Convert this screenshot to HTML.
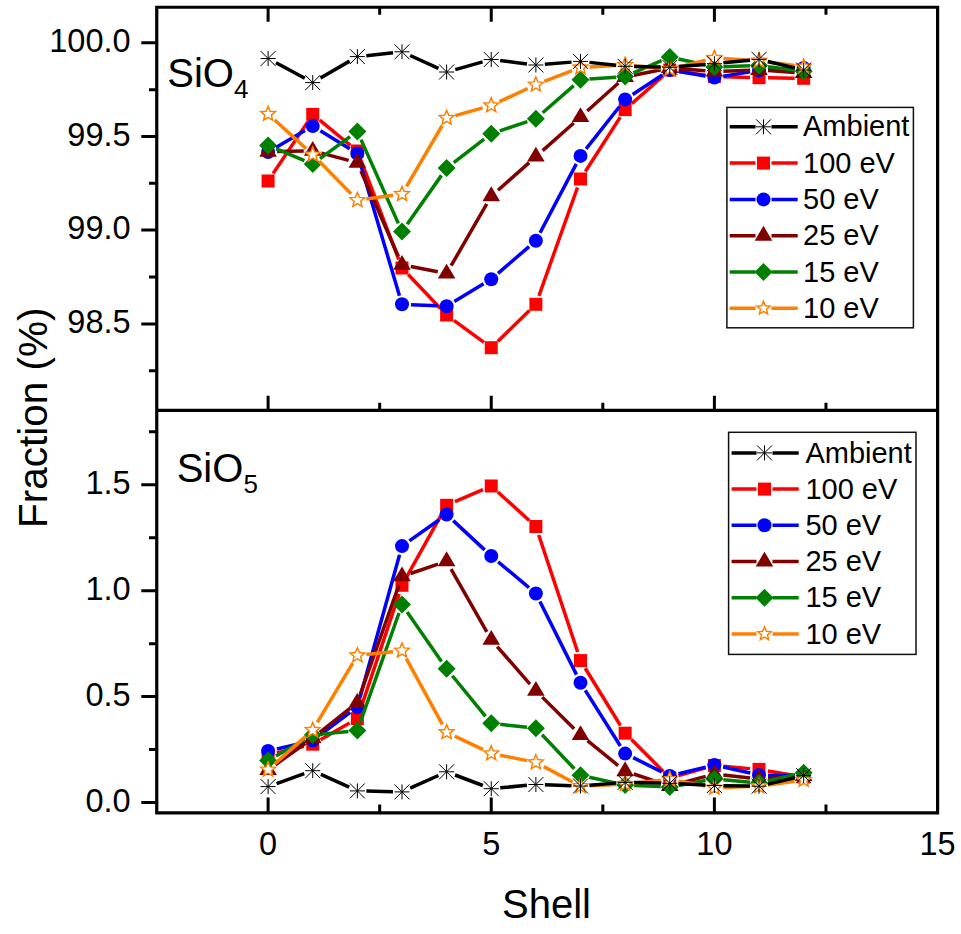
<!DOCTYPE html>
<html><head><meta charset="utf-8"><style>
html,body{margin:0;padding:0;background:#fff;}
svg{display:block;}
text{font-family:"Liberation Sans",sans-serif;fill:#000;}
</style></head><body>
<svg width="961" height="934" viewBox="0 0 961 934">
<rect width="961" height="934" fill="#fff"/>
<defs><clipPath id="ct"><rect x="158" y="9" width="778" height="400"/></clipPath><clipPath id="cb"><rect x="158" y="412" width="778" height="399"/></clipPath></defs>
<g clip-path="url(#ct)"><path d="M273.11,173.52L307.72,121.88M319.69,120.11L350.40,145.29M360.57,159.41L398.78,259.59M408.19,274.53L440.42,308.47M453.88,320.32L483.99,342.38M497.70,341.43L529.43,310.57M538.90,295.82L577.49,187.48M585.38,171.43L620.27,117.17M631.87,103.63L663.04,75.97M678.68,71.30L705.49,75.20M723.40,76.74L750.03,77.46M768.03,77.82L794.66,78.18" stroke="#ff0000" stroke-width="3.5" fill="none" stroke-linecap="butt"/>
<rect x="261.60" y="174.50" width="13.00" height="13.00" fill="#ff0000"/>
<rect x="306.23" y="107.90" width="13.00" height="13.00" fill="#ff0000"/>
<rect x="350.86" y="144.50" width="13.00" height="13.00" fill="#ff0000"/>
<rect x="395.49" y="261.50" width="13.00" height="13.00" fill="#ff0000"/>
<rect x="440.12" y="308.50" width="13.00" height="13.00" fill="#ff0000"/>
<rect x="484.75" y="341.20" width="13.00" height="13.00" fill="#ff0000"/>
<rect x="529.38" y="297.80" width="13.00" height="13.00" fill="#ff0000"/>
<rect x="574.01" y="172.50" width="13.00" height="13.00" fill="#ff0000"/>
<rect x="618.64" y="103.10" width="13.00" height="13.00" fill="#ff0000"/>
<rect x="663.27" y="63.50" width="13.00" height="13.00" fill="#ff0000"/>
<rect x="707.90" y="70.00" width="13.00" height="13.00" fill="#ff0000"/>
<rect x="752.53" y="71.20" width="13.00" height="13.00" fill="#ff0000"/>
<rect x="797.16" y="71.80" width="13.00" height="13.00" fill="#ff0000"/>
<path d="M275.88,147.47L304.95,130.53M320.39,130.72L349.70,148.78M359.91,162.13L399.44,295.67M410.98,304.68L437.63,305.82M454.32,301.54L483.55,283.86M498.06,273.32L529.07,246.58M540.07,232.74L576.32,163.86M586.09,148.84L619.56,106.46M632.66,94.45L662.25,74.95M678.65,71.49L705.52,76.01M723.29,76.11L750.14,71.89M768.02,70.00L794.67,68.50" stroke="#0000ff" stroke-width="3.5" fill="none" stroke-linecap="butt"/>
<circle cx="268.10" cy="152.00" r="7" fill="#0000ff"/>
<circle cx="312.73" cy="126.00" r="7" fill="#0000ff"/>
<circle cx="357.36" cy="153.50" r="7" fill="#0000ff"/>
<circle cx="401.99" cy="304.30" r="7" fill="#0000ff"/>
<circle cx="446.62" cy="306.20" r="7" fill="#0000ff"/>
<circle cx="491.25" cy="279.20" r="7" fill="#0000ff"/>
<circle cx="535.88" cy="240.70" r="7" fill="#0000ff"/>
<circle cx="580.51" cy="155.90" r="7" fill="#0000ff"/>
<circle cx="625.14" cy="99.40" r="7" fill="#0000ff"/>
<circle cx="669.77" cy="70.00" r="7" fill="#0000ff"/>
<circle cx="714.40" cy="77.50" r="7" fill="#0000ff"/>
<circle cx="759.03" cy="70.50" r="7" fill="#0000ff"/>
<circle cx="803.66" cy="68.00" r="7" fill="#0000ff"/>
<path d="M277.10,151.60L303.73,151.00M321.43,153.12L348.66,160.38M360.96,170.95L398.39,256.55M410.82,266.52L437.79,271.78M451.12,265.71L486.75,203.99M497.98,190.23L529.15,162.57M542.61,150.63L573.78,122.97M587.21,110.99L618.44,83.01M633.96,75.22L660.95,69.78M678.74,68.70L705.43,70.80M723.39,71.20L750.04,70.30M768.01,70.60L794.68,72.40" stroke="#800000" stroke-width="3.5" fill="none" stroke-linecap="butt"/>
<polygon points="268.10,141.93 276.90,156.73 259.30,156.73" fill="#800000"/>
<polygon points="312.73,140.93 321.53,155.73 303.93,155.73" fill="#800000"/>
<polygon points="357.36,152.83 366.16,167.63 348.56,167.63" fill="#800000"/>
<polygon points="401.99,254.93 410.79,269.73 393.19,269.73" fill="#800000"/>
<polygon points="446.62,263.63 455.42,278.43 437.82,278.43" fill="#800000"/>
<polygon points="491.25,186.33 500.05,201.13 482.45,201.13" fill="#800000"/>
<polygon points="535.88,146.73 544.68,161.53 527.08,161.53" fill="#800000"/>
<polygon points="580.51,107.13 589.31,121.93 571.71,121.93" fill="#800000"/>
<polygon points="625.14,67.13 633.94,81.93 616.34,81.93" fill="#800000"/>
<polygon points="669.77,58.13 678.57,72.93 660.97,72.93" fill="#800000"/>
<polygon points="714.40,61.63 723.20,76.43 705.60,76.43" fill="#800000"/>
<polygon points="759.03,60.13 767.83,74.93 750.23,74.93" fill="#800000"/>
<polygon points="803.66,63.13 812.46,77.93 794.86,77.93" fill="#800000"/>
<path d="M276.41,148.95L304.42,160.55M320.00,158.69L350.09,136.71M361.02,139.62L398.33,223.38M407.16,224.23L441.45,175.37M453.76,162.52L484.11,139.18M499.78,130.83L527.35,121.57M542.66,112.78L573.73,85.62M589.49,79.06L616.16,77.14M633.39,72.90L661.52,60.60M678.56,58.95L705.61,64.95M723.40,66.64L750.03,65.86M767.96,66.72L794.73,70.08" stroke="#008000" stroke-width="3.5" fill="none" stroke-linecap="butt"/>
<polygon points="268.10,136.50 277.10,145.50 268.10,154.50 259.10,145.50" fill="#008000"/>
<polygon points="312.73,155.00 321.73,164.00 312.73,173.00 303.73,164.00" fill="#008000"/>
<polygon points="357.36,122.40 366.36,131.40 357.36,140.40 348.36,131.40" fill="#008000"/>
<polygon points="401.99,222.60 410.99,231.60 401.99,240.60 392.99,231.60" fill="#008000"/>
<polygon points="446.62,159.00 455.62,168.00 446.62,177.00 437.62,168.00" fill="#008000"/>
<polygon points="491.25,124.70 500.25,133.70 491.25,142.70 482.25,133.70" fill="#008000"/>
<polygon points="535.88,109.70 544.88,118.70 535.88,127.70 526.88,118.70" fill="#008000"/>
<polygon points="580.51,70.70 589.51,79.70 580.51,88.70 571.51,79.70" fill="#008000"/>
<polygon points="625.14,67.50 634.14,76.50 625.14,85.50 616.14,76.50" fill="#008000"/>
<polygon points="669.77,48.00 678.77,57.00 669.77,66.00 660.77,57.00" fill="#008000"/>
<polygon points="714.40,57.90 723.40,66.90 714.40,75.90 705.40,66.90" fill="#008000"/>
<polygon points="759.03,56.60 768.03,65.60 759.03,74.60 750.03,65.60" fill="#008000"/>
<polygon points="803.66,62.20 812.66,71.20 803.66,80.20 794.66,71.20" fill="#008000"/>
<path d="M274.75,120.06L306.08,148.64M319.03,161.13L351.06,193.77M366.28,198.98L393.07,195.32M406.54,186.34L442.07,125.76M455.29,115.57L482.58,107.93M499.41,101.70L527.72,88.50M544.28,81.46L572.11,70.74M589.50,67.00L616.15,65.50M634.10,65.80L660.81,68.20M678.51,66.86L705.66,60.24M723.38,58.62L750.05,60.18M767.95,61.92L794.74,65.58" stroke="#ff8000" stroke-width="3.5" fill="none" stroke-linecap="butt"/>
<polygon points="268.10,106.30 270.14,111.20 275.42,111.62 271.40,115.07 272.63,120.23 268.10,117.47 263.57,120.23 264.80,115.07 260.78,111.62 266.06,111.20" fill="#fff" stroke="#ff8000" stroke-width="1.5" stroke-linejoin="miter" stroke-miterlimit="3"/>
<polygon points="312.73,147.00 314.77,151.90 320.05,152.32 316.03,155.77 317.26,160.93 312.73,158.16 308.20,160.93 309.43,155.77 305.41,152.32 310.69,151.90" fill="#fff" stroke="#ff8000" stroke-width="1.5" stroke-linejoin="miter" stroke-miterlimit="3"/>
<polygon points="357.36,192.50 359.40,197.40 364.68,197.82 360.66,201.27 361.89,206.43 357.36,203.66 352.83,206.43 354.06,201.27 350.04,197.82 355.32,197.40" fill="#fff" stroke="#ff8000" stroke-width="1.5" stroke-linejoin="miter" stroke-miterlimit="3"/>
<polygon points="401.99,186.40 404.03,191.30 409.31,191.72 405.29,195.17 406.52,200.33 401.99,197.56 397.46,200.33 398.69,195.17 394.67,191.72 399.95,191.30" fill="#fff" stroke="#ff8000" stroke-width="1.5" stroke-linejoin="miter" stroke-miterlimit="3"/>
<polygon points="446.62,110.30 448.66,115.20 453.94,115.62 449.92,119.07 451.15,124.23 446.62,121.47 442.09,124.23 443.32,119.07 439.30,115.62 444.58,115.20" fill="#fff" stroke="#ff8000" stroke-width="1.5" stroke-linejoin="miter" stroke-miterlimit="3"/>
<polygon points="491.25,97.80 493.29,102.70 498.57,103.12 494.55,106.57 495.78,111.73 491.25,108.97 486.72,111.73 487.95,106.57 483.93,103.12 489.21,102.70" fill="#fff" stroke="#ff8000" stroke-width="1.5" stroke-linejoin="miter" stroke-miterlimit="3"/>
<polygon points="535.88,77.00 537.92,81.90 543.20,82.32 539.18,85.77 540.41,90.93 535.88,88.17 531.35,90.93 532.58,85.77 528.56,82.32 533.84,81.90" fill="#fff" stroke="#ff8000" stroke-width="1.5" stroke-linejoin="miter" stroke-miterlimit="3"/>
<polygon points="580.51,59.80 582.55,64.70 587.83,65.12 583.81,68.57 585.04,73.73 580.51,70.97 575.98,73.73 577.21,68.57 573.19,65.12 578.47,64.70" fill="#fff" stroke="#ff8000" stroke-width="1.5" stroke-linejoin="miter" stroke-miterlimit="3"/>
<polygon points="625.14,57.30 627.18,62.20 632.46,62.62 628.44,66.07 629.67,71.23 625.14,68.47 620.61,71.23 621.84,66.07 617.82,62.62 623.10,62.20" fill="#fff" stroke="#ff8000" stroke-width="1.5" stroke-linejoin="miter" stroke-miterlimit="3"/>
<polygon points="669.77,61.30 671.81,66.20 677.09,66.62 673.07,70.07 674.30,75.23 669.77,72.47 665.24,75.23 666.47,70.07 662.45,66.62 667.73,66.20" fill="#fff" stroke="#ff8000" stroke-width="1.5" stroke-linejoin="miter" stroke-miterlimit="3"/>
<polygon points="714.40,50.40 716.44,55.30 721.72,55.72 717.70,59.17 718.93,64.33 714.40,61.57 709.87,64.33 711.10,59.17 707.08,55.72 712.36,55.30" fill="#fff" stroke="#ff8000" stroke-width="1.5" stroke-linejoin="miter" stroke-miterlimit="3"/>
<polygon points="759.03,53.00 761.07,57.90 766.35,58.32 762.33,61.77 763.56,66.93 759.03,64.17 754.50,66.93 755.73,61.77 751.71,58.32 756.99,57.90" fill="#fff" stroke="#ff8000" stroke-width="1.5" stroke-linejoin="miter" stroke-miterlimit="3"/>
<polygon points="803.66,59.10 805.70,64.00 810.98,64.42 806.96,67.87 808.19,73.03 803.66,70.27 799.13,73.03 800.36,67.87 796.34,64.42 801.62,64.00" fill="#fff" stroke="#ff8000" stroke-width="1.5" stroke-linejoin="miter" stroke-miterlimit="3"/>
<path d="M276.02,62.78L304.81,78.32M320.51,78.07L349.58,61.13M366.31,55.64L393.04,52.76M410.19,55.51L438.42,68.29M455.29,69.57L482.58,61.93M500.18,60.60L526.95,63.90M544.85,64.28L571.54,62.12M589.46,62.38L616.19,65.32M634.14,66.50L660.77,67.10M678.74,66.58L705.43,64.42M723.36,62.84L750.07,60.26M767.79,61.48L794.90,67.92" stroke="#000000" stroke-width="3.5" fill="none" stroke-linecap="butt"/>
<path d="M268.10,51.00V66.00M260.60,58.50H275.60M260.60,51.00L275.60,66.00M275.60,51.00L260.60,66.00" stroke="#000000" stroke-width="1.0" fill="none"/>
<path d="M312.73,75.10V90.10M305.23,82.60H320.23M305.23,75.10L320.23,90.10M320.23,75.10L305.23,90.10" stroke="#000000" stroke-width="1.0" fill="none"/>
<path d="M357.36,49.10V64.10M349.86,56.60H364.86M349.86,49.10L364.86,64.10M364.86,49.10L349.86,64.10" stroke="#000000" stroke-width="1.0" fill="none"/>
<path d="M401.99,44.30V59.30M394.49,51.80H409.49M394.49,44.30L409.49,59.30M409.49,44.30L394.49,59.30" stroke="#000000" stroke-width="1.0" fill="none"/>
<path d="M446.62,64.50V79.50M439.12,72.00H454.12M439.12,64.50L454.12,79.50M454.12,64.50L439.12,79.50" stroke="#000000" stroke-width="1.0" fill="none"/>
<path d="M491.25,52.00V67.00M483.75,59.50H498.75M483.75,52.00L498.75,67.00M498.75,52.00L483.75,67.00" stroke="#000000" stroke-width="1.0" fill="none"/>
<path d="M535.88,57.50V72.50M528.38,65.00H543.38M528.38,57.50L543.38,72.50M543.38,57.50L528.38,72.50" stroke="#000000" stroke-width="1.0" fill="none"/>
<path d="M580.51,53.90V68.90M573.01,61.40H588.01M573.01,53.90L588.01,68.90M588.01,53.90L573.01,68.90" stroke="#000000" stroke-width="1.0" fill="none"/>
<path d="M625.14,58.80V73.80M617.64,66.30H632.64M617.64,58.80L632.64,73.80M632.64,58.80L617.64,73.80" stroke="#000000" stroke-width="1.0" fill="none"/>
<path d="M669.77,59.80V74.80M662.27,67.30H677.27M662.27,59.80L677.27,74.80M677.27,59.80L662.27,74.80" stroke="#000000" stroke-width="1.0" fill="none"/>
<path d="M714.40,56.20V71.20M706.90,63.70H721.90M706.90,56.20L721.90,71.20M721.90,56.20L706.90,71.20" stroke="#000000" stroke-width="1.0" fill="none"/>
<path d="M759.03,51.90V66.90M751.53,59.40H766.53M751.53,51.90L766.53,66.90M766.53,51.90L751.53,66.90" stroke="#000000" stroke-width="1.0" fill="none"/>
<path d="M803.66,62.50V77.50M796.16,70.00H811.16M796.16,62.50L811.16,77.50M811.16,62.50L796.16,77.50" stroke="#000000" stroke-width="1.0" fill="none"/></g>
<g clip-path="url(#cb)"><path d="M276.85,752.88L303.98,746.32M320.54,739.72L349.55,723.08M360.22,710.07L399.13,593.83M406.37,577.44L442.24,513.16M454.88,501.73L482.99,489.57M497.91,492.05L529.22,520.45M538.72,535.04L577.67,652.06M585.22,668.27L620.43,725.53M631.49,739.58L663.42,771.62M678.44,775.57L705.73,767.93M723.37,766.28L750.06,768.62M767.90,770.91L794.79,775.49" stroke="#ff0000" stroke-width="3.5" fill="none" stroke-linecap="butt"/>
<rect x="261.60" y="748.50" width="13.00" height="13.00" fill="#ff0000"/>
<rect x="306.23" y="737.70" width="13.00" height="13.00" fill="#ff0000"/>
<rect x="350.86" y="712.10" width="13.00" height="13.00" fill="#ff0000"/>
<rect x="395.49" y="578.80" width="13.00" height="13.00" fill="#ff0000"/>
<rect x="440.12" y="498.80" width="13.00" height="13.00" fill="#ff0000"/>
<rect x="484.75" y="479.50" width="13.00" height="13.00" fill="#ff0000"/>
<rect x="529.38" y="520.00" width="13.00" height="13.00" fill="#ff0000"/>
<rect x="574.01" y="654.10" width="13.00" height="13.00" fill="#ff0000"/>
<rect x="618.64" y="726.70" width="13.00" height="13.00" fill="#ff0000"/>
<rect x="663.27" y="771.50" width="13.00" height="13.00" fill="#ff0000"/>
<rect x="707.90" y="759.00" width="13.00" height="13.00" fill="#ff0000"/>
<rect x="752.53" y="762.90" width="13.00" height="13.00" fill="#ff0000"/>
<rect x="797.16" y="770.50" width="13.00" height="13.00" fill="#ff0000"/>
<path d="M276.87,748.96L303.96,742.64M319.92,735.19L350.17,712.41M359.77,698.33L399.58,554.77M409.34,540.90L439.27,519.70M453.21,520.63L484.66,549.87M498.14,561.79L528.99,587.71M539.91,601.55L576.48,674.65M585.30,690.32L620.35,745.98M633.19,757.62L661.72,771.88M678.51,773.76L705.66,767.14M723.18,766.97L750.25,773.03M768.03,775.20L794.66,775.80" stroke="#0000ff" stroke-width="3.5" fill="none" stroke-linecap="butt"/>
<circle cx="268.10" cy="751.00" r="7" fill="#0000ff"/>
<circle cx="312.73" cy="740.60" r="7" fill="#0000ff"/>
<circle cx="357.36" cy="707.00" r="7" fill="#0000ff"/>
<circle cx="401.99" cy="546.10" r="7" fill="#0000ff"/>
<circle cx="446.62" cy="514.50" r="7" fill="#0000ff"/>
<circle cx="491.25" cy="556.00" r="7" fill="#0000ff"/>
<circle cx="535.88" cy="593.50" r="7" fill="#0000ff"/>
<circle cx="580.51" cy="682.70" r="7" fill="#0000ff"/>
<circle cx="625.14" cy="753.60" r="7" fill="#0000ff"/>
<circle cx="669.77" cy="775.90" r="7" fill="#0000ff"/>
<circle cx="714.40" cy="765.00" r="7" fill="#0000ff"/>
<circle cx="759.03" cy="775.00" r="7" fill="#0000ff"/>
<circle cx="803.66" cy="776.00" r="7" fill="#0000ff"/>
<path d="M275.41,764.76L305.42,743.24M319.78,732.41L350.31,708.19M360.36,694.11L398.99,584.89M410.51,573.50L438.10,564.10M451.06,569.03L486.81,631.97M497.18,646.57L529.95,684.03M542.27,697.13L574.12,728.67M587.50,740.67L618.15,765.53M633.68,774.03L661.23,783.17M678.46,783.66L705.71,776.34M723.34,775.00L750.09,778.00M768.01,778.40L794.68,776.60" stroke="#800000" stroke-width="3.5" fill="none" stroke-linecap="butt"/>
<polygon points="268.10,760.13 276.90,774.93 259.30,774.93" fill="#800000"/>
<polygon points="312.73,728.13 321.53,742.93 303.93,742.93" fill="#800000"/>
<polygon points="357.36,692.73 366.16,707.53 348.56,707.53" fill="#800000"/>
<polygon points="401.99,566.53 410.79,581.33 393.19,581.33" fill="#800000"/>
<polygon points="446.62,551.33 455.42,566.13 437.82,566.13" fill="#800000"/>
<polygon points="491.25,629.93 500.05,644.73 482.45,644.73" fill="#800000"/>
<polygon points="535.88,680.93 544.68,695.73 527.08,695.73" fill="#800000"/>
<polygon points="580.51,725.13 589.31,739.93 571.71,739.93" fill="#800000"/>
<polygon points="625.14,761.33 633.94,776.13 616.34,776.13" fill="#800000"/>
<polygon points="669.77,776.13 678.57,790.93 660.97,790.93" fill="#800000"/>
<polygon points="714.40,764.13 723.20,778.93 705.60,778.93" fill="#800000"/>
<polygon points="759.03,769.13 767.83,783.93 750.23,783.93" fill="#800000"/>
<polygon points="803.66,766.13 812.46,780.93 794.86,780.93" fill="#800000"/>
<path d="M275.91,756.04L304.92,739.46M321.69,734.12L348.40,731.48M360.36,722.12L398.99,612.98M407.12,611.89L441.49,661.41M452.32,675.76L485.55,716.34M500.19,724.30L526.94,727.30M542.08,734.83L574.31,768.77M589.30,777.21L616.35,783.09M634.13,785.40L660.78,786.60M678.63,785.41L705.54,780.59M723.36,779.80L750.07,782.20M767.80,780.98L794.89,774.72" stroke="#008000" stroke-width="3.5" fill="none" stroke-linecap="butt"/>
<polygon points="268.10,751.50 277.10,760.50 268.10,769.50 259.10,760.50" fill="#008000"/>
<polygon points="312.73,726.00 321.73,735.00 312.73,744.00 303.73,735.00" fill="#008000"/>
<polygon points="357.36,721.60 366.36,730.60 357.36,739.60 348.36,730.60" fill="#008000"/>
<polygon points="401.99,595.50 410.99,604.50 401.99,613.50 392.99,604.50" fill="#008000"/>
<polygon points="446.62,659.80 455.62,668.80 446.62,677.80 437.62,668.80" fill="#008000"/>
<polygon points="491.25,714.30 500.25,723.30 491.25,732.30 482.25,723.30" fill="#008000"/>
<polygon points="535.88,719.30 544.88,728.30 535.88,737.30 526.88,728.30" fill="#008000"/>
<polygon points="580.51,766.30 589.51,775.30 580.51,784.30 571.51,775.30" fill="#008000"/>
<polygon points="625.14,776.00 634.14,785.00 625.14,794.00 616.14,785.00" fill="#008000"/>
<polygon points="669.77,778.00 678.77,787.00 669.77,796.00 660.77,787.00" fill="#008000"/>
<polygon points="714.40,770.00 723.40,779.00 714.40,788.00 705.40,779.00" fill="#008000"/>
<polygon points="759.03,774.00 768.03,783.00 759.03,792.00 750.03,783.00" fill="#008000"/>
<polygon points="803.66,763.70 812.66,772.70 803.66,781.70 794.66,772.70" fill="#008000"/>
<path d="M274.83,763.73L306.00,736.07M317.35,722.37L352.74,663.13M366.31,654.46L393.04,651.64M406.31,658.60L442.30,724.40M454.75,736.16L483.12,749.64M500.08,755.26L527.05,760.64M543.82,766.63L572.57,781.97M589.50,785.76L616.15,784.44M634.09,783.08L660.82,780.32M678.62,781.05L705.55,786.05M723.40,787.42L750.03,786.58M767.94,785.04L794.75,781.26" stroke="#ff8000" stroke-width="3.5" fill="none" stroke-linecap="butt"/>
<polygon points="268.10,762.00 270.14,766.90 275.42,767.32 271.40,770.77 272.63,775.93 268.10,773.17 263.57,775.93 264.80,770.77 260.78,767.32 266.06,766.90" fill="#fff" stroke="#ff8000" stroke-width="1.5" stroke-linejoin="miter" stroke-miterlimit="3"/>
<polygon points="312.73,722.40 314.77,727.30 320.05,727.72 316.03,731.17 317.26,736.33 312.73,733.57 308.20,736.33 309.43,731.17 305.41,727.72 310.69,727.30" fill="#fff" stroke="#ff8000" stroke-width="1.5" stroke-linejoin="miter" stroke-miterlimit="3"/>
<polygon points="357.36,647.70 359.40,652.60 364.68,653.02 360.66,656.47 361.89,661.63 357.36,658.87 352.83,661.63 354.06,656.47 350.04,653.02 355.32,652.60" fill="#fff" stroke="#ff8000" stroke-width="1.5" stroke-linejoin="miter" stroke-miterlimit="3"/>
<polygon points="401.99,643.00 404.03,647.90 409.31,648.32 405.29,651.77 406.52,656.93 401.99,654.17 397.46,656.93 398.69,651.77 394.67,648.32 399.95,647.90" fill="#fff" stroke="#ff8000" stroke-width="1.5" stroke-linejoin="miter" stroke-miterlimit="3"/>
<polygon points="446.62,724.60 448.66,729.50 453.94,729.92 449.92,733.37 451.15,738.53 446.62,735.76 442.09,738.53 443.32,733.37 439.30,729.92 444.58,729.50" fill="#fff" stroke="#ff8000" stroke-width="1.5" stroke-linejoin="miter" stroke-miterlimit="3"/>
<polygon points="491.25,745.80 493.29,750.70 498.57,751.12 494.55,754.57 495.78,759.73 491.25,756.97 486.72,759.73 487.95,754.57 483.93,751.12 489.21,750.70" fill="#fff" stroke="#ff8000" stroke-width="1.5" stroke-linejoin="miter" stroke-miterlimit="3"/>
<polygon points="535.88,754.70 537.92,759.60 543.20,760.02 539.18,763.47 540.41,768.63 535.88,765.87 531.35,768.63 532.58,763.47 528.56,760.02 533.84,759.60" fill="#fff" stroke="#ff8000" stroke-width="1.5" stroke-linejoin="miter" stroke-miterlimit="3"/>
<polygon points="580.51,778.50 582.55,783.40 587.83,783.82 583.81,787.27 585.04,792.43 580.51,789.67 575.98,792.43 577.21,787.27 573.19,783.82 578.47,783.40" fill="#fff" stroke="#ff8000" stroke-width="1.5" stroke-linejoin="miter" stroke-miterlimit="3"/>
<polygon points="625.14,776.30 627.18,781.20 632.46,781.62 628.44,785.07 629.67,790.23 625.14,787.47 620.61,790.23 621.84,785.07 617.82,781.62 623.10,781.20" fill="#fff" stroke="#ff8000" stroke-width="1.5" stroke-linejoin="miter" stroke-miterlimit="3"/>
<polygon points="669.77,771.70 671.81,776.60 677.09,777.02 673.07,780.47 674.30,785.63 669.77,782.87 665.24,785.63 666.47,780.47 662.45,777.02 667.73,776.60" fill="#fff" stroke="#ff8000" stroke-width="1.5" stroke-linejoin="miter" stroke-miterlimit="3"/>
<polygon points="714.40,780.00 716.44,784.90 721.72,785.32 717.70,788.77 718.93,793.93 714.40,791.17 709.87,793.93 711.10,788.77 707.08,785.32 712.36,784.90" fill="#fff" stroke="#ff8000" stroke-width="1.5" stroke-linejoin="miter" stroke-miterlimit="3"/>
<polygon points="759.03,778.60 761.07,783.50 766.35,783.92 762.33,787.37 763.56,792.53 759.03,789.76 754.50,792.53 755.73,787.37 751.71,783.92 756.99,783.50" fill="#fff" stroke="#ff8000" stroke-width="1.5" stroke-linejoin="miter" stroke-miterlimit="3"/>
<polygon points="803.66,772.30 805.70,777.20 810.98,777.62 806.96,781.07 808.19,786.23 803.66,783.47 799.13,786.23 800.36,781.07 796.34,777.62 801.62,777.20" fill="#fff" stroke="#ff8000" stroke-width="1.5" stroke-linejoin="miter" stroke-miterlimit="3"/>
<path d="M276.58,783.58L304.25,773.72M320.93,774.41L349.16,787.19M366.36,791.10L392.99,791.70M410.20,788.20L438.41,775.50M455.04,774.99L482.83,785.51M500.21,787.86L526.92,785.34M544.87,784.80L571.52,785.70M589.48,785.28L616.17,783.12M634.14,782.58L660.77,783.12M678.76,783.74L705.41,785.06M723.40,785.64L750.03,786.06M767.79,784.12L794.90,777.68" stroke="#000000" stroke-width="3.5" fill="none" stroke-linecap="butt"/>
<path d="M268.10,779.10V794.10M260.60,786.60H275.60M260.60,779.10L275.60,794.10M275.60,779.10L260.60,794.10" stroke="#000000" stroke-width="1.0" fill="none"/>
<path d="M312.73,763.20V778.20M305.23,770.70H320.23M305.23,763.20L320.23,778.20M320.23,763.20L305.23,778.20" stroke="#000000" stroke-width="1.0" fill="none"/>
<path d="M357.36,783.40V798.40M349.86,790.90H364.86M349.86,783.40L364.86,798.40M364.86,783.40L349.86,798.40" stroke="#000000" stroke-width="1.0" fill="none"/>
<path d="M401.99,784.40V799.40M394.49,791.90H409.49M394.49,784.40L409.49,799.40M409.49,784.40L394.49,799.40" stroke="#000000" stroke-width="1.0" fill="none"/>
<path d="M446.62,764.30V779.30M439.12,771.80H454.12M439.12,764.30L454.12,779.30M454.12,764.30L439.12,779.30" stroke="#000000" stroke-width="1.0" fill="none"/>
<path d="M491.25,781.20V796.20M483.75,788.70H498.75M483.75,781.20L498.75,796.20M498.75,781.20L483.75,796.20" stroke="#000000" stroke-width="1.0" fill="none"/>
<path d="M535.88,777.00V792.00M528.38,784.50H543.38M528.38,777.00L543.38,792.00M543.38,777.00L528.38,792.00" stroke="#000000" stroke-width="1.0" fill="none"/>
<path d="M580.51,778.50V793.50M573.01,786.00H588.01M573.01,778.50L588.01,793.50M588.01,778.50L573.01,793.50" stroke="#000000" stroke-width="1.0" fill="none"/>
<path d="M625.14,774.90V789.90M617.64,782.40H632.64M617.64,774.90L632.64,789.90M632.64,774.90L617.64,789.90" stroke="#000000" stroke-width="1.0" fill="none"/>
<path d="M669.77,775.80V790.80M662.27,783.30H677.27M662.27,775.80L677.27,790.80M677.27,775.80L662.27,790.80" stroke="#000000" stroke-width="1.0" fill="none"/>
<path d="M714.40,778.00V793.00M706.90,785.50H721.90M706.90,778.00L721.90,793.00M721.90,778.00L706.90,793.00" stroke="#000000" stroke-width="1.0" fill="none"/>
<path d="M759.03,778.70V793.70M751.53,786.20H766.53M751.53,778.70L766.53,793.70M766.53,778.70L751.53,793.70" stroke="#000000" stroke-width="1.0" fill="none"/>
<path d="M803.66,768.10V783.10M796.16,775.60H811.16M796.16,768.10L811.16,783.10M811.16,768.10L796.16,783.10" stroke="#000000" stroke-width="1.0" fill="none"/></g>
<rect x="726.9" y="107.4" width="186.5" height="220.4" fill="#fff" stroke="#111" stroke-width="1.5"/>
<path d="M729.7,126.80H755.5M771.5,126.80H797.7" stroke="#000000" stroke-width="3.5" fill="none"/>
<path d="M763.50,119.30V134.30M756.00,126.80H771.00M756.00,119.30L771.00,134.30M771.00,119.30L756.00,134.30" stroke="#000000" stroke-width="1.0" fill="none"/>
<text x="803" y="136.40" font-size="29">Ambient</text>
<path d="M729.7,163.10H755.5M771.5,163.10H797.7" stroke="#ff0000" stroke-width="3.5" fill="none"/>
<rect x="757.00" y="156.60" width="13.00" height="13.00" fill="#ff0000"/>
<text x="803" y="172.70" font-size="29">100 eV</text>
<path d="M729.7,199.40H755.5M771.5,199.40H797.7" stroke="#0000ff" stroke-width="3.5" fill="none"/>
<circle cx="763.50" cy="199.40" r="7" fill="#0000ff"/>
<text x="803" y="209.00" font-size="29">50 eV</text>
<path d="M729.7,235.70H755.5M771.5,235.70H797.7" stroke="#800000" stroke-width="3.5" fill="none"/>
<polygon points="763.50,225.83 772.30,240.63 754.70,240.63" fill="#800000"/>
<text x="803" y="245.30" font-size="29">25 eV</text>
<path d="M729.7,272.00H755.5M771.5,272.00H797.7" stroke="#008000" stroke-width="3.5" fill="none"/>
<polygon points="763.50,263.00 772.50,272.00 763.50,281.00 754.50,272.00" fill="#008000"/>
<text x="803" y="281.60" font-size="29">15 eV</text>
<path d="M729.7,308.30H755.5M771.5,308.30H797.7" stroke="#ff8000" stroke-width="3.5" fill="none"/>
<polygon points="763.50,301.30 765.35,305.75 770.16,306.14 766.50,309.27 767.61,313.96 763.50,311.45 759.39,313.96 760.50,309.27 756.84,306.14 761.65,305.75" fill="#fff" stroke="#ff8000" stroke-width="1.5" stroke-linejoin="miter" stroke-miterlimit="3"/>
<text x="803" y="317.90" font-size="29">10 eV</text>
<rect x="728.6" y="432.3" width="187.39999999999998" height="222.09999999999997" fill="#fff" stroke="#111" stroke-width="1.5"/>
<path d="M731.6,452.90H756.5M772.5,452.90H798.7" stroke="#000000" stroke-width="3.5" fill="none"/>
<path d="M764.50,445.40V460.40M757.00,452.90H772.00M757.00,445.40L772.00,460.40M772.00,445.40L757.00,460.40" stroke="#000000" stroke-width="1.0" fill="none"/>
<text x="805.4" y="462.50" font-size="29">Ambient</text>
<path d="M731.6,489.10H756.5M772.5,489.10H798.7" stroke="#ff0000" stroke-width="3.5" fill="none"/>
<rect x="758.00" y="482.60" width="13.00" height="13.00" fill="#ff0000"/>
<text x="805.4" y="498.70" font-size="29">100 eV</text>
<path d="M731.6,525.30H756.5M772.5,525.30H798.7" stroke="#0000ff" stroke-width="3.5" fill="none"/>
<circle cx="764.50" cy="525.30" r="7" fill="#0000ff"/>
<text x="805.4" y="534.90" font-size="29">50 eV</text>
<path d="M731.6,561.50H756.5M772.5,561.50H798.7" stroke="#800000" stroke-width="3.5" fill="none"/>
<polygon points="764.50,551.63 773.30,566.43 755.70,566.43" fill="#800000"/>
<text x="805.4" y="571.10" font-size="29">25 eV</text>
<path d="M731.6,597.70H756.5M772.5,597.70H798.7" stroke="#008000" stroke-width="3.5" fill="none"/>
<polygon points="764.50,588.70 773.50,597.70 764.50,606.70 755.50,597.70" fill="#008000"/>
<text x="805.4" y="607.30" font-size="29">15 eV</text>
<path d="M731.6,633.90H756.5M772.5,633.90H798.7" stroke="#ff8000" stroke-width="3.5" fill="none"/>
<polygon points="764.50,626.90 766.35,631.35 771.16,631.74 767.50,634.87 768.61,639.56 764.50,637.05 760.39,639.56 761.50,634.87 757.84,631.74 762.65,631.35" fill="#fff" stroke="#ff8000" stroke-width="1.5" stroke-linejoin="miter" stroke-miterlimit="3"/>
<text x="805.4" y="643.50" font-size="29">10 eV</text>
<path d="M156.75,7.25H937.6V812.9H156.75Z M156.75,410.3H937.6" stroke="#000" stroke-width="3.2" fill="none" stroke-linejoin="miter" stroke-linecap="square"/>
<path d="M141.3,42.80H156.75M141.3,136.50H156.75M141.3,230.10H156.75M141.3,323.90H156.75M149,89.65H156.75M149,183.35H156.75M149,277.05H156.75M149,370.75H156.75M141.3,802.50H156.75M141.3,696.60H156.75M141.3,590.70H156.75M141.3,484.80H156.75M149,749.55H156.75M149,643.65H156.75M149,537.75H156.75M149,431.85H156.75M268.10,7.25V21.75M268.10,410.3V395.8M268.10,812.9V797.4M491.25,7.25V21.75M491.25,410.3V395.8M491.25,812.9V797.4M714.40,7.25V21.75M714.40,410.3V395.8M714.40,812.9V797.4M379.68,7.25V14.75M379.68,410.3V402.8M379.68,812.9V804.4M602.83,7.25V14.75M602.83,410.3V402.8M602.83,812.9V804.4M825.98,7.25V14.75M825.98,410.3V402.8M825.98,812.9V804.4" stroke="#000" stroke-width="3" fill="none"/>
<text x="130.6" y="51.80" font-size="32.5" text-anchor="end">100.0</text>
<text x="130.6" y="145.50" font-size="32.5" text-anchor="end">99.5</text>
<text x="130.6" y="239.10" font-size="32.5" text-anchor="end">99.0</text>
<text x="130.6" y="332.90" font-size="32.5" text-anchor="end">98.5</text>
<text x="130.6" y="811.80" font-size="32.5" text-anchor="end">0.0</text>
<text x="130.6" y="705.90" font-size="32.5" text-anchor="end">0.5</text>
<text x="130.6" y="600.00" font-size="32.5" text-anchor="end">1.0</text>
<text x="130.6" y="494.10" font-size="32.5" text-anchor="end">1.5</text>
<text x="268.10" y="854.7" font-size="32.5" text-anchor="middle">0</text>
<text x="491.25" y="854.7" font-size="32.5" text-anchor="middle">5</text>
<text x="714.40" y="854.7" font-size="32.5" text-anchor="middle">10</text>
<text x="937.55" y="854.7" font-size="32.5" text-anchor="middle">15</text>
<text x="546.5" y="918" font-size="40" text-anchor="middle">Shell</text>
<text transform="translate(46.5,417.7) rotate(-90)" font-size="40.5" text-anchor="middle">Fraction (%)</text>
<text x="167.3" y="86.6" font-size="40">SiO<tspan font-size="26" dy="11">4</tspan></text>
<text x="176.7" y="482.3" font-size="40">SiO<tspan font-size="26" dy="10.6">5</tspan></text>
</svg>
</body></html>
